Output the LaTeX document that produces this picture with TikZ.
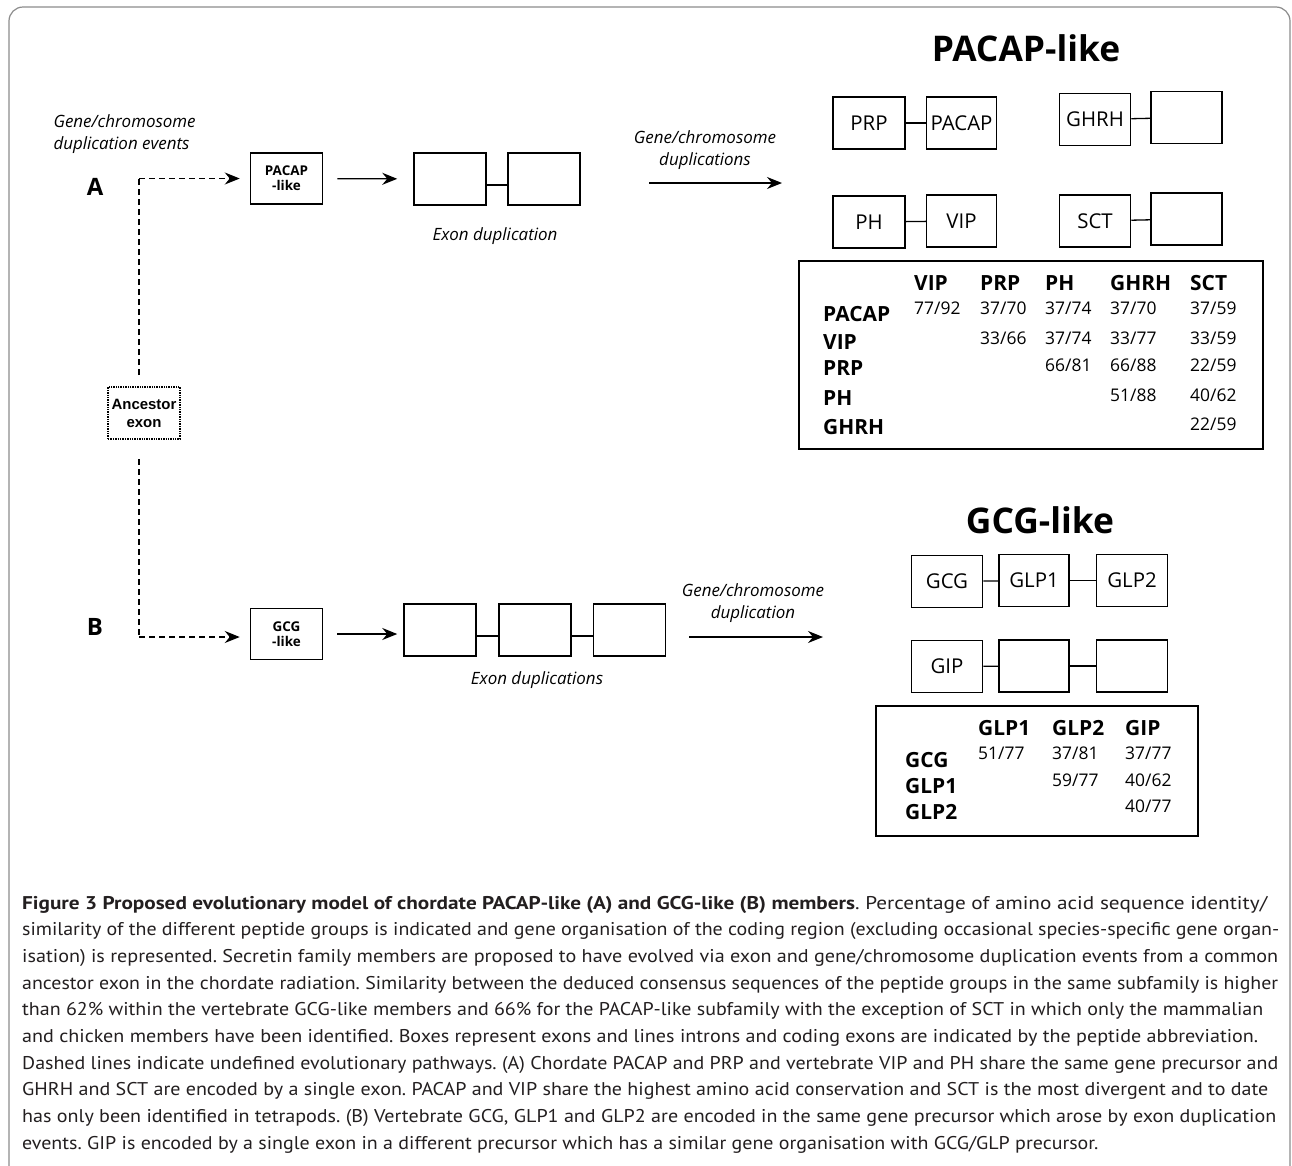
\documentclass[tikz,border=0pt]{standalone}
\usepackage{fontspec}
\usepackage{graphicx}
\setmainfont{Open Sans}
\newfontfamily\capfont{PT Sans}
\newfontfamily\arialfont{Liberation Sans}
\usetikzlibrary{arrows.meta}
\newcommand\myfs[1]{\fontsize{#1}{#1}\selectfont}
\definecolor{framec}{HTML}{8C8C8C}
\definecolor{captc}{HTML}{231F20}
\frenchspacing
\begin{document}
\begin{tikzpicture}[x=1bp,y=-1bp,
  exon/.style={draw, line width=1.5bp, minimum width=72bp, minimum height=52bp, inner sep=0pt, font=\myfs{20.5}},
  seedbox/.style={draw, line width=1.5bp, minimum width=72bp, minimum height=51bp, inner sep=0pt, align=center, font=\bfseries\fontsize{13.5}{15}\selectfont},
  ancbox/.style={draw, densely dotted, line width=1.4bp, minimum width=72bp, minimum height=52bp, inner sep=0pt, align=center, font=\arialfont\bfseries\fontsize{15}{18}\selectfont},
  intron/.style={line width=1.3bp},
  arr/.style={line width=1.3bp, -{Stealth[length=15bp,width=12bp,inset=5bp]}},
  dasharr/.style={line width=1.3bp, dash pattern=on 6bp off 4bp, -{Stealth[length=15bp,width=12bp,inset=5bp]}},
  dashln/.style={line width=1.3bp, dash pattern=on 6bp off 4bp},
  itlabel/.style={font=\itshape\fontsize{17}{21.5}\selectfont, align=center},
  heading/.style={font=\bfseries\myfs{35.5}},
  panel/.style={font=\bfseries\myfs{24}},
  tbox/.style={draw, line width=1.5bp, inner sep=0pt},
  hdr/.style={anchor=base west, inner sep=0pt, font=\bfseries\myfs{21}},
  num/.style={anchor=base west, inner sep=0pt, font=\myfs{17.5}},
  capline/.style={anchor=base west, inner sep=0pt, text=captc, font=\capfont\myfs{18.5}}
]
\useasboundingbox (0,0) rectangle (1292,1166);
\fill[white] (0,0) rectangle (1292,1166);
% frame
\draw[framec, line width=1.2bp, rounded corners=14bp] (9,1166) -- (9,7) -- (1290,7) -- (1290,1166);

% ---------- left part ----------
\node[itlabel, align=left, anchor=west] (gcevents) at (50,134) {Gene/chromosome\\duplication events};
\node[panel] (lblA) at (95,187) {A};
\node[panel] (lblB) at (95,627) {B};

\node[ancbox] (anc) at (144,413) {Ancestor\\exon};
\coordinate (cA) at (139,178.5);
\coordinate (cB) at (139,637);
\coordinate (aTop) at (139,375);
\coordinate (aBot) at (139,459);

\node[seedbox] (pacapA) at (286.5,178.5) {PACAP\\-like};
\node[seedbox] (gcgA) at (286.5,634) {GCG\\-like};

\draw[dashln] (aTop) -- (cA);
\draw[dasharr, shorten >=10bp] (cA) -- (pacapA);
\draw[dashln] (aBot) -- (cB);
\draw[dasharr, shorten >=10bp] (cB) -- (gcgA.west |- cB);

% A row exon duplication
\node[exon] (exA1) at (450,179) {};
\node[exon] (exA2) at (544,179) {};
\draw[intron] ([yshift=-6bp]exA1.east) -- ([yshift=-6bp]exA2.west);
\draw[arr, shorten <=14bp, shorten >=16bp] (pacapA) -- (exA1);
\node[itlabel] (exdupA) at (495,236) {Exon duplication};

% B row exon duplications
\node[exon] (exB1) at (440,630) {};
\node[exon] (exB2) at (535,630) {};
\node[exon] (exB3) at (629.5,630) {};
\draw[intron] ([yshift=-6bp]exB1.east) -- ([yshift=-6bp]exB2.west);
\draw[intron] ([yshift=-6bp]exB2.east) -- ([yshift=-6bp]exB3.west);
\draw[arr, shorten <=14bp, shorten >=6bp] (gcgA) -- (exB1.west |- gcgA);
\node[itlabel] (exdupB) at (537,680) {Exon duplications};

% ---------- PACAP-like ----------
\node[itlabel] (gcdupA) at (705,150) {Gene/chromosome\\duplications};
\coordinate (gA1) at (649,183);
\coordinate (gA2) at (782,183);
\draw[arr] (gA1) -- (gA2);

\node[heading] (headA) at (1026,48) {PACAP-like};

\node[exon] (bPRP) at (869,123) {PRP};
\node[exon, minimum width=70bp] (bPACAP) at (961.5,123) {PACAP};
\node[exon, minimum width=71bp] (bGHRH) at (1095,119.5) {GHRH};
\node[exon, minimum width=71bp] (bGx) at (1186.5,117.5) {};
\node[exon] (bPH) at (869,222) {PH};
\node[exon, minimum width=70bp] (bVIP) at (961.5,221) {VIP};
\node[exon, minimum width=71bp] (bSCT) at (1095,221) {SCT};
\node[exon, minimum width=71bp] (bSx) at (1186.5,219) {};
\draw[intron] (bPRP) -- (bPACAP);
\draw[intron] (bGHRH) -- (bGx);
\draw[intron] (bPH) -- (bVIP);
\draw[intron] (bSCT) -- (bSx);

\node[tbox, minimum width=464bp, minimum height=188bp] (tabA) at (1031,355) {};
\node[hdr] (hVIP) at (914,290) {VIP};
\node[hdr] (hPRP) at (980,290) {PRP};
\node[hdr] (hPH) at (1045,290) {PH};
\node[hdr] (hGHRH) at (1110,290) {GHRH};
\node[hdr] (hSCT) at (1190,290) {SCT};
\node[hdr] (rPACAP) at (823,321) {PACAP};
\node[hdr] (rVIP) at (823,349) {VIP};
\node[hdr] (rPRP) at (823,375) {PRP};
\node[hdr] (rPH) at (823,405) {PH};
\node[hdr] (rGHRH) at (823,434) {GHRH};
\node[num] (n11) at (914,314.5) {77/92};
\node[num] (n12) at (980,314.5) {37/70};
\node[num] (n13) at (1045,314.5) {37/74};
\node[num] (n14) at (1110,314.5) {37/70};
\node[num] (n15) at (1190,314.5) {37/59};
\node[num] (n22) at (980,344.5) {33/66};
\node[num] (n23) at (1045,344.5) {37/74};
\node[num] (n24) at (1110,344.5) {33/77};
\node[num] (n25) at (1190,344.5) {33/59};
\node[num] (n33) at (1045,371.5) {66/81};
\node[num] (n34) at (1110,371.5) {66/88};
\node[num] (n35) at (1190,371.5) {22/59};
\node[num] (n44) at (1110,401.5) {51/88};
\node[num] (n45) at (1190,401.5) {40/62};
\node[num] (n55) at (1190,430.5) {22/59};

% ---------- GCG-like ----------
\node[itlabel] (gcdupB) at (753,603) {Gene/chromosome\\duplication};
\coordinate (gB1) at (689,637);
\coordinate (gB2) at (823,637);
\draw[arr] (gB1) -- (gB2);

\node[heading] (headB) at (1040,520) {GCG-like};

\node[exon, minimum width=71bp] (bGCG) at (947,581.5) {GCG};
\node[exon, minimum width=70bp] (bGLP1) at (1034,580.5) {GLP1};
\node[exon, minimum width=71bp] (bGLP2) at (1132,580.5) {GLP2};
\node[exon, minimum width=71bp] (bGIP) at (947,666.5) {GIP};
\node[exon, minimum width=70bp] (bIx) at (1034,666) {};
\node[exon, minimum width=71bp] (bIy) at (1132,666) {};
\draw[intron] (bGCG) -- (bGLP1);
\draw[intron] (bGLP1) -- (bGLP2);
\draw[intron] (bGIP) -- (bIx);
\draw[intron] (bIx) -- (bIy);

\node[tbox, minimum width=322bp, minimum height=130bp] (tabB) at (1037,771) {};
\node[hdr] (hGLP1) at (978,735) {GLP1};
\node[hdr] (hGLP2) at (1052,735) {GLP2};
\node[hdr] (hGIP) at (1125,735) {GIP};
\node[hdr] (rGCG) at (905,767) {GCG};
\node[hdr] (rGLP1) at (905,793) {GLP1};
\node[hdr] (rGLP2) at (905,819) {GLP2};
\node[num] (m11) at (978,759.5) {51/77};
\node[num] (m12) at (1052,759.5) {37/81};
\node[num] (m13) at (1125,759.5) {37/77};
\node[num] (m22) at (1052,786.5) {59/77};
\node[num] (m23) at (1125,786.5) {40/62};
\node[num] (m33) at (1125,812.5) {40/77};

% ---------- caption ----------
\node[capline] (c1) at (22,909) {\resizebox{1245bp}{\height}{\textbf{Figure 3 Proposed evolutionary model of chordate PACAP-like (A) and GCG-like (B) members}. Percentage of amino acid sequence identity/}};
\node[capline] (c2) at (22,935.7) {\resizebox{1257bp}{\height}{similarity of the different peptide groups is indicated and gene organisation of the coding region (excluding occasional species-specific gene organ-}};
\node[capline] (c3) at (22,962.4) {\resizebox{1256bp}{\height}{isation) is represented. Secretin family members are proposed to have evolved via exon and gene/chromosome duplication events from a common}};
\node[capline] (c4) at (22,989.1) {\resizebox{1256bp}{\height}{ancestor exon in the chordate radiation. Similarity between the deduced consensus sequences of the peptide groups in the same subfamily is higher}};
\node[capline] (c5) at (22,1015.8) {\resizebox{1241bp}{\height}{than 62\% within the vertebrate GCG-like members and 66\% for the PACAP-like subfamily with the exception of SCT in which only the mammalian}};
\node[capline] (c6) at (22,1042.5) {\resizebox{1236bp}{\height}{and chicken members have been identified. Boxes represent exons and lines introns and coding exons are indicated by the peptide abbreviation.}};
\node[capline] (c7) at (22,1069.2) {\resizebox{1256bp}{\height}{Dashed lines indicate undefined evolutionary pathways. (A) Chordate PACAP and PRP and vertebrate VIP and PH share the same gene precursor and}};
\node[capline] (c8) at (22,1095.9) {\resizebox{1246bp}{\height}{GHRH and SCT are encoded by a single exon. PACAP and VIP share the highest amino acid conservation and SCT is the most divergent and to date}};
\node[capline] (c9) at (22,1122.6) {\resizebox{1254bp}{\height}{has only been identified in tetrapods. (B) Vertebrate GCG, GLP1 and GLP2 are encoded in the same gene precursor which arose by exon duplication}};
\node[capline] (c10) at (22,1149.3) {\resizebox{1076bp}{\height}{events. GIP is encoded by a single exon in a different precursor which has a similar gene organisation with GCG/GLP precursor.}};
\end{tikzpicture}
\end{document}
